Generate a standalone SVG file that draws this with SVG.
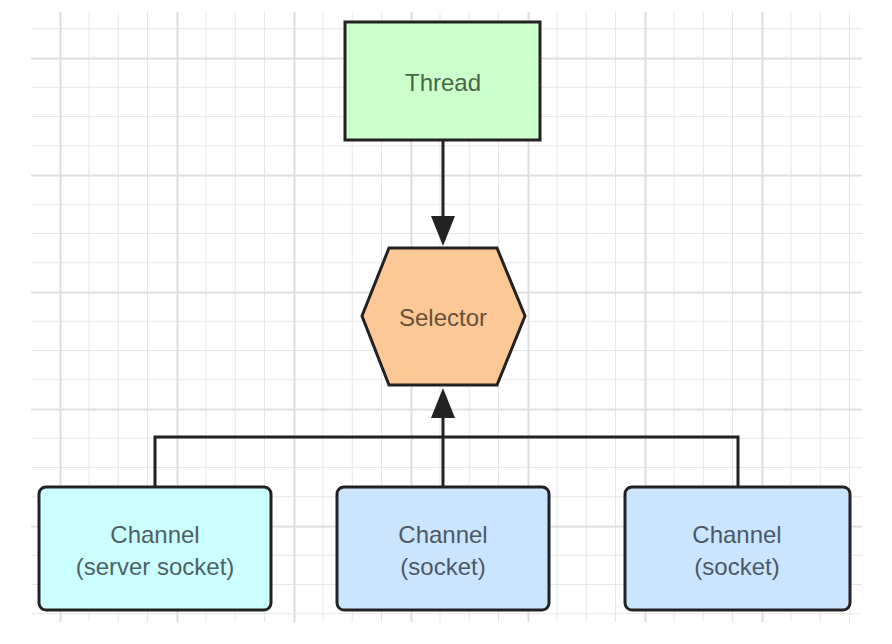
<svg xmlns="http://www.w3.org/2000/svg" width="892" height="644" viewBox="0 0 892 644">
<defs>
<pattern id="minor" x="31" y="0" width="29.25" height="29.25" patternUnits="userSpaceOnUse">
<path d="M29.25 0V29.25M0 29.25H29.25" fill="none" stroke="#e6e6e6" stroke-width="2"/>
</pattern>
<pattern id="major" x="60" y="58" width="117" height="117" patternUnits="userSpaceOnUse">
<path d="M0.5 0V117M0 0.5H117" fill="none" stroke="#dedede" stroke-width="2"/>
</pattern>
<style>
.node{stroke:#222;stroke-width:3}
.lbl{font-family:"Liberation Sans",Arial,sans-serif;font-size:24px;text-anchor:middle}
.edge{fill:none;stroke:#222;stroke-width:3}
</style>
</defs>
<rect width="892" height="644" fill="#fff"/>
<rect x="31" y="12" width="831" height="610" fill="url(#minor)"/>
<rect x="31" y="12" width="831" height="610" fill="url(#major)"/>
<g id="connectors">
<path class="edge" d="M443 140V216"/>
<path d="M431 216L455 216L443 246z" fill="#222"/>
<path class="edge" d="M443 487V418"/>
<path d="M431 418L455 418L443 388z" fill="#222"/>
<path class="edge" d="M155 487V437H738V487"/>
</g>
<g id="thread">
<rect class="node" x="345" y="22" width="195" height="118" fill="#ccffcc"/>
<text class="lbl" x="443" y="91" fill="#486648">Thread</text>
</g>
<g id="selector">
<polygon class="node" points="389,248 497,248 525,316 497,385 389,385 362,316" fill="#fbc896"/>
<text class="lbl" x="443" y="326" fill="#665038">Selector</text>
</g>
<g id="channel-server">
<rect class="node" x="39" y="487" width="232" height="123" rx="7" fill="#ccffff"/>
<text class="lbl" x="155" y="543" fill="#4c6266">Channel</text>
<text class="lbl" x="155" y="575" fill="#4c6266">(server socket)</text>
</g>
<g id="channel-socket-1">
<rect class="node" x="337" y="487" width="212" height="123" rx="7" fill="#cce5ff"/>
<text class="lbl" x="443" y="543" fill="#4c5866">Channel</text>
<text class="lbl" x="443" y="575" fill="#4c5866">(socket)</text>
</g>
<g id="channel-socket-2">
<rect class="node" x="625" y="487" width="225" height="123" rx="7" fill="#cce5ff"/>
<text class="lbl" x="737" y="543" fill="#4c5866">Channel</text>
<text class="lbl" x="737" y="575" fill="#4c5866">(socket)</text>
</g>
</svg>
